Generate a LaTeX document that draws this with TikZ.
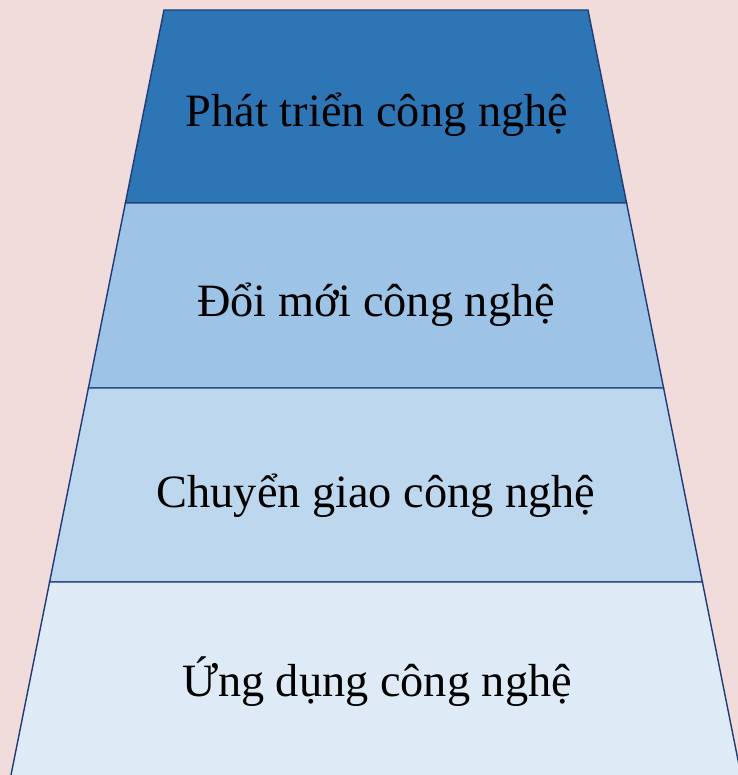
\documentclass[tikz,border=0pt]{standalone}
\usepackage{fontspec}
\setmainfont{Liberation Serif}
\definecolor{bgpink}{HTML}{F2DCDB}
\definecolor{edgeblue}{HTML}{1F3E79}
\definecolor{tierone}{HTML}{2E75B6}
\definecolor{tiertwo}{HTML}{9DC3E6}
\definecolor{tierthree}{HTML}{BDD7EE}
\definecolor{tierfour}{HTML}{DEEBF7}

\begin{document}
\begin{tikzpicture}[x=1bp, y=-1bp,
    tier/.style={draw=edgeblue, line width=1.4bp, line join=miter},
    tiertext/.style={font=\fontsize{46.5}{52}\selectfont, anchor=base, inner sep=0pt}]

    \useasboundingbox (0,0) rectangle (738,775);
    \clip (0,0) rectangle (738,775);
    \fill[bgpink] (0,0) rectangle (738,775); % background

    % corners of the tiers, left and right
    \coordinate (l0) at (164,10);   \coordinate (r0) at (588,10);
    \coordinate (l1) at (125.4,203); \coordinate (r1) at (626.6,203);
    \coordinate (l2) at (88.4,388);  \coordinate (r2) at (663.6,388);
    \coordinate (l3) at (49.6,582);  \coordinate (r3) at (702.4,582);
    \coordinate (l4) at (10,780);    \coordinate (r4) at (742,780);

    \filldraw[tier, fill=tierone] (l0) -- (r0) -- (r1) -- (l1) -- cycle; % top tier
    \filldraw[tier, fill=tiertwo] (l1) -- (r1) -- (r2) -- (l2) -- cycle; % second tier
    \filldraw[tier, fill=tierthree] (l2) -- (r2) -- (r3) -- (l3) -- cycle; % third tier
    \filldraw[tier, fill=tierfour] (l3) -- (r3) -- (r4) -- (l4) -- cycle; % bottom tier

    \node[tiertext] (phattrien) at (377,126) {Phát triển công nghệ};
    \node[tiertext] (doimoi) at (376,316) {Đổi mới công nghệ};
    \node[tiertext] (chuyengiao) at (376,507) {Chuyển giao công nghệ};
    \node[tiertext] (ungdung) at (377,696) {Ứng dụng công nghệ};
\end{tikzpicture}
\end{document}
